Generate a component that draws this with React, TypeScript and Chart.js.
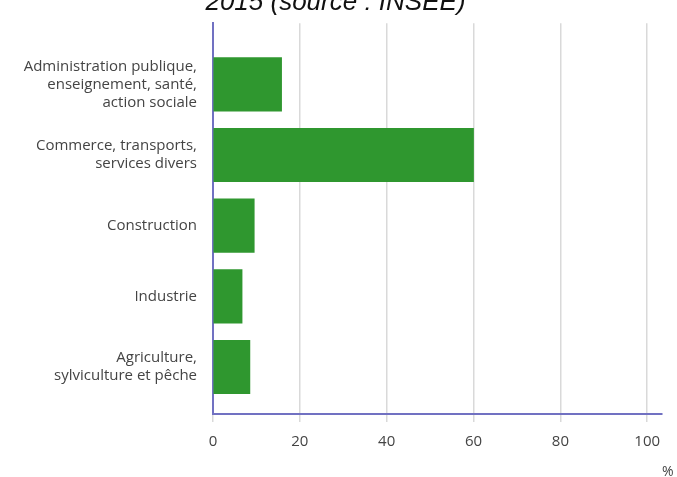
import React, { useEffect, useRef } from "react";
import { Chart, registerables } from "chart.js";
Chart.register(...registerables);

const TITLE = "2015 (source : INSEE)";
const UNIT = "%";
const categories: string[][] = [
  ["Administration publique,", "enseignement, santé,", "action sociale"],
  ["Commerce, transports,", "services divers"],
  ["Construction"],
  ["Industrie"],
  ["Agriculture,", "sylviculture et pêche"],
];
const values = [15.8, 60, 9.5, 6.7, 8.5];
const xTicks = [0, 20, 40, 60, 80, 100];

const FONT = '"Open Sans", "DejaVu Sans", sans-serif';
const AXIS = "#7171c2";
const BAR = "#2f972f";
const TEXT = "#444";

const unitPlugin = {
  id: "unitLabel",
  afterDraw(chart: any) {
    const ctx = chart.ctx;
    ctx.save();
    ctx.font = `14px ${FONT}`;
    ctx.fillStyle = TEXT;
    ctx.textAlign = "left";
    ctx.textBaseline = "alphabetic";
    ctx.fillText(UNIT, chart.chartArea.right, chart.chartArea.bottom + 62);
    ctx.restore();
  },
};

export default function App() {
  const ref = useRef<HTMLCanvasElement>(null);
  useEffect(() => {
    const chart = new Chart(ref.current!, {
      type: "bar",
      data: {
        datasets: [
          {
            data: values.map((v, i) => ({ x: v, y: i })),
            backgroundColor: BAR,
            borderWidth: 0,
            barThickness: 53.5,
          },
        ],
      },
      plugins: [unitPlugin],
      options: {
        indexAxis: "y",
        animation: false,
        responsive: true,
        maintainAspectRatio: false,
        layout: { padding: { left: 9, right: 15, top: 0, bottom: 23 } },
        plugins: {
          legend: { display: false },
          tooltip: { enabled: false },
          title: {
            display: true,
            text: TITLE,
            color: "#111",
            font: {
              family: '"Liberation Sans", Arial, sans-serif',
              size: 26,
              style: "italic",
              weight: "normal",
              lineHeight: 1.2,
            },
            padding: { top: 0, bottom: 5 },
          },
        },
        scales: {
          x: {
            type: "linear",
            min: 0,
            max: 103.4,
            afterBuildTicks: (s: any) => {
              s.ticks = xTicks.map((v) => ({ value: v }));
            },
            afterFit: (s: any) => {
              s.height = 40;
            },
            grid: { color: "#d9d9d9", lineWidth: 1.5, tickLength: 8, drawTicks: true },
            border: { display: true, color: AXIS, width: 2 },
            ticks: {
              padding: 11,
              color: TEXT,
              font: { family: FONT, size: 15 },
              maxRotation: 0,
              autoSkip: false,
            },
          },
          y: {
            type: "linear",
            reverse: true,
            offset: false,
            min: -0.866,
            max: 4.665,
            afterBuildTicks: (s: any) => {
              s.ticks = categories.map((_, i) => ({ value: i }));
            },
            afterFit: (s: any) => {
              s.width = 204;
            },
            grid: { display: false, drawTicks: false, offset: false },
            border: { display: true, color: AXIS, width: 2 },
            ticks: {
              padding: 16,
              color: TEXT,
              autoSkip: false,
              font: { family: FONT, size: 15, lineHeight: 1.2 },
              callback: (v: any) => categories[Math.round(Number(v))] ?? "",
            },
          },
        },
      } as any,
    });
    return () => chart.destroy();
  }, []);
  return (
    <div
      style={{
        position: "fixed",
        left: 0,
        top: 0,
        width: 677,
        height: 477,
        overflow: "hidden",
        background: "#fff",
      }}
    >
      <div style={{ position: "absolute", left: 0, top: -13, width: 677, height: 490 }}>
        <canvas ref={ref} />
      </div>
    </div>
  );
}
